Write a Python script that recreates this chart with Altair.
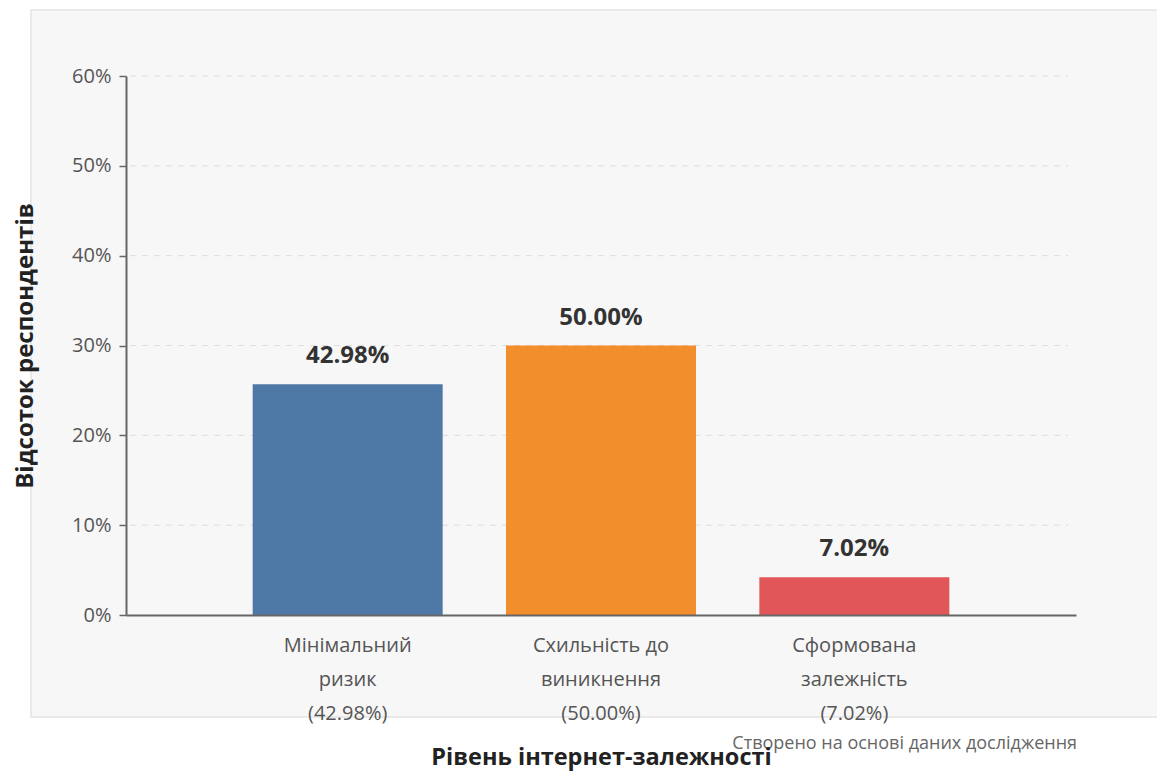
import altair as alt
import pandas as pd

categories = ["Мінімальний\nризик\n(42.98%)", "Схильність до\nвиникнення\n(50.00%)", "Сформована\nзалежність\n(7.02%)"]
values = [25.7, 30.0, 4.2]
labels = ["42.98%", "50.00%", "7.02%"]
colors = ["#4e79a7", "#f28e2b", "#e15759"]
tick_values = [0, 10, 20, 30, 40, 50, 60]
grid_values = [10, 20, 30, 40, 50, 60]

df = pd.DataFrame({"cat": categories, "value": values, "label": labels, "color": colors})
grid_df = pd.DataFrame({"g": grid_values})
note_df = pd.DataFrame({"t": ["Створено на основі даних дослідження"]})

FONT = "Open Sans"
W, H = 950, 539

x_enc = alt.X("cat:N", sort=categories,
              scale=alt.Scale(paddingInner=0.25, paddingOuter=0.5),
              axis=alt.Axis(title="Рівень інтернет-залежності", labelAngle=0,
                            labelExpr="split(datum.label, '\\n')",
                            labelLineHeight=34, labelFontSize=20, labelColor="#555",
                            labelFont=FONT, labelPadding=20, labelBaseline="top",
                            ticks=False, domainColor="#666", domainWidth=2,
                            titleFont=FONT, titleFontSize=23.5, titleFontWeight="bold",
                            titleColor="#222", titleY=149, titleBaseline="alphabetic",
                            zindex=1))
y_scale = alt.Scale(domain=[0, 60], nice=False)

panel = alt.Chart(note_df).mark_rect(fill="#f7f7f7", stroke="#e3e3e3", strokeWidth=1.5).encode(
    x=alt.value(-95), x2=alt.value(W + 120), y=alt.value(-66), y2=alt.value(641)
)

grid = alt.Chart(grid_df).mark_rule(color="#dddddd", strokeDash=[6, 6], strokeWidth=1).encode(
    y=alt.Y("g:Q", scale=y_scale), x=alt.value(4), x2=alt.value(W - 8)
)

bars = alt.Chart(df).mark_bar().encode(
    x=x_enc,
    y=alt.Y("value:Q", scale=y_scale,
            axis=alt.Axis(title="Відсоток респондентів", values=tick_values,
                          labelExpr="datum.value + '%'", grid=False,
                          labelFontSize=20, labelColor="#555", labelFont=FONT,
                          tickSize=7, tickColor="#666", tickWidth=1.5, labelPadding=8,
                          domainColor="#666", domainWidth=2,
                          titleFont=FONT, titleFontSize=24, titleFontWeight="bold",
                          titleColor="#222", titleX=-101, titleY=H / 2,
                          titleBaseline="middle", zindex=1)),
    color=alt.Color("color:N", scale=None),
)

text = alt.Chart(df).mark_text(font=FONT, fontSize=24, fontWeight="bold", color="#333",
                               baseline="alphabetic", dy=-21).encode(
    x=alt.X("cat:N", sort=categories), y=alt.Y("value:Q", scale=y_scale), text="label:N"
)

note = alt.Chart(note_df).mark_text(font=FONT, fontSize=18, color="#666", align="right",
                                    baseline="alphabetic").encode(
    x=alt.value(W + 1), y=alt.value(673), text="t:N"
)

chart = alt.layer(panel, grid, bars, text, note).properties(
    width=W, height=H,
    autosize=alt.AutoSizeParams(type="none"),
    padding={"left": 118, "top": 68, "right": 81, "bottom": 157},
    background="white",
).configure_view(stroke=None)

chart.save("out.html", embed_options={"renderer": "svg", "actions": False})
